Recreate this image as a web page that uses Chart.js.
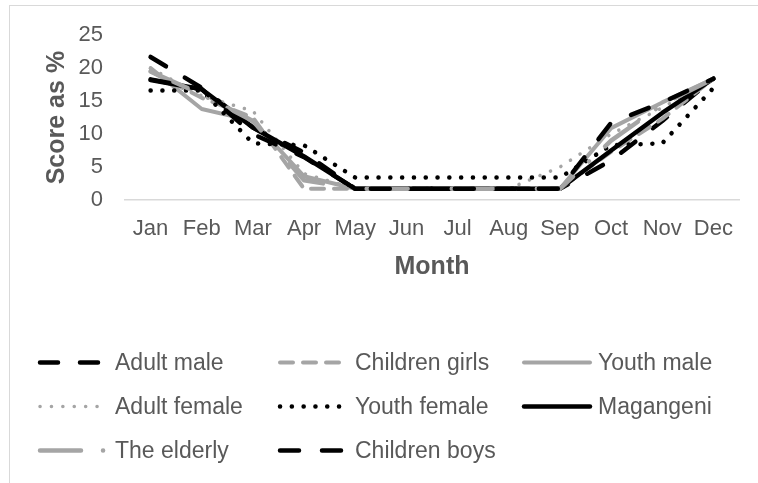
<!DOCTYPE html>
<html>
<head>
<meta charset="utf-8">
<script src="https://cdn.jsdelivr.net/npm/chart.js@4.4.1/dist/chart.umd.min.js"></script>
<style>
  html, body { margin: 0; padding: 0; background: #fff; }
  #wrap { position: relative; width: 758px; height: 483px; overflow: hidden; }
  #frame { position: absolute; left: 9px; top: 5px; width: 800px; height: 520px; border: 1px solid #d9d9d9; box-sizing: border-box; }
  #chart { position: absolute; left: 0; top: 0; }
</style>
</head>
<body>
<div id="wrap">
  <div id="frame"></div>
  <canvas id="chart" width="758" height="483"></canvas>
</div>
<script>
// Data
const months = ['Jan', 'Feb', 'Mar', 'Apr', 'May', 'Jun', 'Jul', 'Aug', 'Sep', 'Oct', 'Nov', 'Dec'];
const yTicks = [0, 5, 10, 15, 20, 25];

const adultMale     = [21.7, 17.0, 11.0, 7.2, 1.7, 1.7, 1.7, 1.7, 1.7, 6.0, 12.0, 18.4];
const childrenGirls = [19.5, 15.5, 12.5, 1.7, 1.7, 1.7, 1.7, 1.7, 1.7, 7.3, 12.3, 18.4];
const youthMale     = [20.0, 13.8, 12.0, 3.6, 1.7, 1.7, 1.7, 1.7, 1.7, 10.9, 14.8, 18.4];
const adultFemale   = [20.0, 15.8, 13.5, 4.0, 1.7, 1.7, 1.7, 1.7, 5.0, 10.0, 14.0, 18.4];
const youthFemale   = [16.6, 16.6, 8.6, 8.3, 3.4, 3.4, 3.4, 3.4, 3.4, 8.3, 8.6, 17.0];
const magangeni     = [18.2, 16.8, 11.0, 6.6, 1.7, 1.7, 1.7, 1.7, 1.7, 7.5, 13.2, 18.4];
const theElderly    = [19.5, 16.0, 12.0, 3.0, 1.7, 1.7, 1.7, 1.7, 1.7, 9.0, 14.5, 18.4];
const childrenBoys  = [18.3, 16.8, 10.0, 6.5, 1.7, 1.7, 1.7, 1.7, 1.7, 11.7, 14.8, 18.4];

const FONT = '"Liberation Sans", Arial, sans-serif';
const TEXT = '#595959';
const BLACK = '#000000';
const GRAY = '#a5a5a5';

function series(label, data, color, width, dash) {
    return {
        label: label,
        data: data,
        borderColor: color,
        borderWidth: width,
        borderDash: dash,
        borderCapStyle: 'round',
        borderJoinStyle: 'round',
        pointRadius: 0,
        tension: 0,
        fill: false
    };
}

const datasets = [
    series('Adult male', adultMale, BLACK, 4.5, [18, 22]),
    series('Children girls', childrenGirls, GRAY, 4, [13, 10]),
    series('Youth male', youthMale, GRAY, 4, []),
    series('Adult female', adultFemale, GRAY, 3.5, [0.1, 11.3]),
    series('Youth female', youthFemale, BLACK, 4.5, [0.1, 11.7]),
    series('Magangeni', magangeni, BLACK, 4.5, []),
    series('The elderly', theElderly, GRAY, 4.5, [41, 22, 0.1, 22]),
    series('Children boys', childrenBoys, BLACK, 4.5, [19, 23])
];
// later series sit on top, like the original
datasets.forEach((ds, i) => { ds.order = datasets.length - i; });

// three-column legend under the axis
const gridLegend = {
    id: 'gridLegend',
    afterDraw(chart) {
        const ctx = chart.ctx;
        const cols = [
            { x0: 38, x1: 108, tx: 115 },
            { x0: 278, x1: 348, tx: 355 },
            { x0: 522, x1: 592, tx: 598 }
        ];
        const rows = [362.5, 406.5, 450.5];
        chart.data.datasets.forEach((ds, i) => {
            const c = cols[i % 3];
            const y = rows[Math.floor(i / 3)];
            ctx.save();
            ctx.strokeStyle = ds.borderColor;
            ctx.lineWidth = ds.borderWidth;
            ctx.lineCap = 'round';
            ctx.setLineDash(ds.borderDash || []);
            ctx.beginPath();
            ctx.moveTo(c.x0 + 2, y);
            ctx.lineTo(c.x1 - 2, y);
            ctx.stroke();
            ctx.setLineDash([]);
            ctx.fillStyle = TEXT;
            ctx.font = '23px ' + FONT;
            ctx.textBaseline = 'middle';
            ctx.textAlign = 'left';
            ctx.fillText(ds.label, c.tx, y + 1.5);
            ctx.restore();
        });
    }
};

new Chart(document.getElementById('chart'), {
    type: 'line',
    data: { labels: months, datasets: datasets },
    options: {
        responsive: false,
        animation: false,
        devicePixelRatio: 1,
        layout: { padding: { left: 10, right: 19, top: 33, bottom: 201 } },
        plugins: {
            legend: { display: false },
            tooltip: { enabled: false }
        },
        scales: {
            x: {
                offset: true,
                grid: { display: false, drawTicks: false },
                border: { display: true, color: '#d9d9d9', width: 1.5 },
                ticks: { color: TEXT, font: { size: 22, family: FONT }, padding: 16, maxRotation: 0, autoSkip: false },
                title: { display: true, text: 'Month', color: TEXT, font: { size: 25, weight: 'bold', family: FONT }, padding: { top: 0, bottom: 0 } },
                afterFit(scale) { scale.height = 82; }
            },
            y: {
                min: yTicks[0],
                max: yTicks[yTicks.length - 1],
                afterBuildTicks(scale) { scale.ticks = yTicks.map(v => ({ value: v })); },
                grid: { display: false, drawTicks: false },
                border: { display: false },
                ticks: { color: TEXT, font: { size: 22, family: FONT }, padding: 22 },
                title: { display: true, text: 'Score as %', color: TEXT, font: { size: 25, weight: 'bold', family: FONT }, padding: { top: 32, bottom: 0 } },
                afterFit(scale) { scale.width = 115; }
            }
        }
    },
    plugins: [gridLegend]
});
</script>
</body>
</html>
